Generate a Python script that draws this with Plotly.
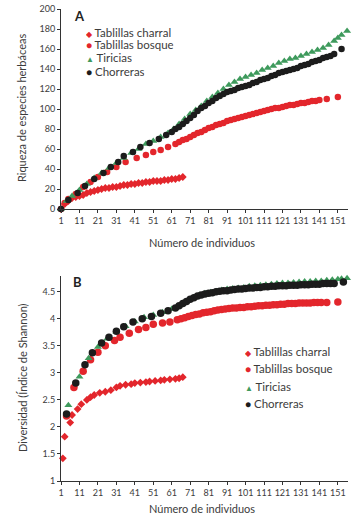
import plotly.graph_objects as go

# ---------------- Data: Panel A (riqueza) ----------------
charral_A_x = [1,3,5,7,9,11,13,15,17,19,21,23,25,27,29,31,33,35,37,39,41,43,45,47,49,51,53,55,57,59,61,63,65,67]
charral_A_y = [0,5,8,11,12,13,14,16,17,18,19,20,21,21,22,22,23,24,24,25,25,26,26,27,27,28,28,28,29,29,30,30,31,32]

bosque_A_x = [1,3,5,9,13,17,21,26,31,36,42,47,51,55,59,63,65,67,69,71,73,75,77,79,81,83,85,87,89,91,93,95,97,99,101,103,105,107,109,111,113,115,117,119,121,123,125,127,129,131,133,135,137,139,141,145,151]
bosque_A_y = [0,6,10,15,22,27,32,37,42,47,51,54,57,59,62,65,67,69,70,72,74,76,77,79,81,82,84,85,86,88,89,90,91,92,93,94,95,96,97,98,99,100,101,101,102,103,104,104,105,106,106,107,108,108,109,110,112]

tiricias_A_x = [1,4,7,11,15,19,23,27,31,35,39,43,47,51,55,59,62,65,68,71,74,77,80,83,86,89,92,95,98,101,104,107,110,113,116,119,122,125,128,131,134,137,140,143,146,149,151,153,156]
tiricias_A_y = [0,8,13,19,25,31,36,41,46,51,56,60,65,68,72,76,80,85,90,95,99,103,108,112,116,120,124,127,130,132,134,136,139,141,143,146,148,150,151,153,155,157,159,161,164,168,171,174,178]

chorreras_A_x = [1,5,10,14,19,24,28,32,35,40,44,49,54,58,61,63,65,67,69,71,73,75,77,79,81,83,85,87,89,91,93,95,97,99,101,103,105,107,109,111,113,115,117,119,121,123,125,127,129,131,133,135,137,139,141,143,145,147,149,153]
chorreras_A_y = [0,9,16,23,30,36,42,47,53,57,62,66,70,74,77,80,82,85,88,91,94,98,101,103,106,108,111,113,115,117,118,119,121,122,123,124,126,127,129,130,131,133,134,136,137,138,139,140,141,143,144,145,147,148,149,151,152,153,155,160]

# ---------------- Data: Panel B (Shannon) ----------------
charral_B_x = [2,3,6,7,10,12,15,17,19,22,25,28,31,33,36,39,41,44,47,49,52,55,57,60,63,65,67]
charral_B_y = [1.42,1.82,2.08,2.22,2.33,2.42,2.50,2.55,2.59,2.63,2.65,2.68,2.73,2.76,2.78,2.79,2.81,2.82,2.83,2.84,2.85,2.86,2.87,2.88,2.89,2.90,2.92]

bosque_B_x = [4,8,13,17,21,25,30,33,38,43,47,51,56,60,64,66,68,70,72,74,76,78,80,82,84,86,88,90,92,94,96,98,100,102,104,106,108,110,112,114,116,118,120,122,124,126,128,130,132,134,136,138,140,142,145,151]
bosque_B_y = [2.20,2.73,3.03,3.24,3.38,3.50,3.60,3.66,3.73,3.80,3.84,3.90,3.92,3.94,3.98,4.00,4.02,4.04,4.06,4.08,4.09,4.11,4.12,4.13,4.15,4.16,4.17,4.18,4.19,4.20,4.20,4.21,4.21,4.22,4.22,4.23,4.24,4.24,4.25,4.25,4.26,4.26,4.27,4.27,4.28,4.28,4.28,4.29,4.29,4.29,4.29,4.30,4.30,4.30,4.30,4.31]

tiricias_B_x = [5,11,16,21,26,31,36,41,46,51,56,61,64,67,70,73,76,79,82,85,88,91,94,97,100,103,106,109,112,115,118,121,124,127,130,133,136,139,142,145,148,151,153,156]
tiricias_B_y = [2.40,2.93,3.27,3.48,3.63,3.76,3.86,3.95,4.03,4.07,4.12,4.18,4.23,4.29,4.35,4.40,4.44,4.47,4.49,4.51,4.53,4.55,4.56,4.57,4.58,4.60,4.61,4.62,4.63,4.64,4.65,4.66,4.66,4.67,4.68,4.69,4.69,4.70,4.70,4.71,4.72,4.73,4.74,4.75]

chorreras_B_x = [4,9,14,18,23,27,31,35,40,45,50,55,59,63,65,67,69,71,73,75,77,79,81,83,85,87,89,91,93,95,97,99,101,103,105,107,109,111,113,115,117,119,121,123,125,127,129,131,133,135,137,139,141,143,145,147,149,154]
chorreras_B_y = [2.24,2.81,3.15,3.37,3.55,3.66,3.77,3.85,3.94,4.00,4.04,4.10,4.15,4.20,4.24,4.28,4.32,4.36,4.39,4.42,4.44,4.46,4.47,4.48,4.50,4.51,4.52,4.52,4.53,4.54,4.55,4.55,4.56,4.57,4.57,4.58,4.58,4.59,4.59,4.60,4.60,4.61,4.61,4.61,4.62,4.62,4.62,4.63,4.63,4.63,4.64,4.64,4.64,4.65,4.65,4.65,4.65,4.68]

series_names = ["Tablillas charral", "Tablillas bosque", "Tiricias", "Chorreras"]
x_ticks = [1,11,21,31,41,51,61,71,81,91,101,111,121,131,141,151]
yA_ticks = [0,20,40,60,80,100,120,140,160,180,200]
yB_ticks = [1,1.5,2,2.5,3,3.5,4,4.5]
yB_labels = ["1","1.5","2","2.5","3","3.5","4","4.5"]

RED = "#e3262c"
GREEN = "#3e9a5c"
BLACK = "#1c1c1c"
FONT = "Lato"
TXT = "#3c3c3c"

W, H = 355, 521
L, R = 61, 7

def px_x(p):
    return (p - L) / (W - L - R)

def px_y(p):
    return 1 - p / H

fig = go.Figure()

styles = [
    dict(symbol="diamond", size=6, color=RED),
    dict(symbol="circle", size=6.5, color=RED),
    dict(symbol="triangle-up", size=7, color=GREEN),
    dict(symbol="circle", size=6.5, color=BLACK),
]
A_data = [(charral_A_x, charral_A_y), (bosque_A_x, bosque_A_y),
          (tiricias_A_x, tiricias_A_y), (chorreras_A_x, chorreras_A_y)]
B_data = [(charral_B_x, charral_B_y), (bosque_B_x, bosque_B_y),
          (tiricias_B_x, tiricias_B_y), (chorreras_B_x, chorreras_B_y)]

for (xs, ys), st, nm in zip(A_data, styles, series_names):
    fig.add_trace(go.Scatter(x=xs, y=ys, mode="markers", name=nm, showlegend=False,
                             marker=dict(symbol=st["symbol"], size=st["size"], color=st["color"], line=dict(width=0)),
                             cliponaxis=False, xaxis="x", yaxis="y"))
for (xs, ys), st, nm in zip(B_data, styles, series_names):
    sz = st["size"] + (1 if st["symbol"] == "circle" else 0)
    fig.add_trace(go.Scatter(x=xs, y=ys, mode="markers", name=nm, showlegend=False,
                             marker=dict(symbol=st["symbol"], size=sz, color=st["color"], line=dict(width=0)),
                             cliponaxis=False, xaxis="x2", yaxis="y2"))

axis_common = dict(showline=True, linecolor="#333333", linewidth=1, ticks="outside", ticklen=3,
                   tickcolor="#333333", showgrid=False, zeroline=False, automargin=False,
                   tickangle=0, tickfont=dict(family=FONT, size=9, color=TXT))

fig.update_layout(
    width=W, height=H, margin=dict(l=L, r=R, t=0, b=0),
    paper_bgcolor="white", plot_bgcolor="white", template="none",
    showlegend=False,
    xaxis=dict(domain=[0, 1], range=[1, 156.5], tickvals=x_ticks, anchor="y", **axis_common),
    yaxis=dict(domain=[px_y(209), px_y(9)], range=[0, 200], tickvals=yA_ticks, anchor="x", **axis_common),
    xaxis2=dict(domain=[0, 1], range=[1, 156.5], tickvals=x_ticks, anchor="y2", **axis_common),
    yaxis2=dict(domain=[px_y(481), px_y(276)], range=[1, 1 + (481 - 276) / 54.08], tickvals=yB_ticks,
                ticktext=yB_labels, anchor="x2", **axis_common),
)

ann = []
# Panel letters
ann.append(dict(text="<b>A</b>", x=px_x(72), y=px_y(16), xref="paper", yref="paper", showarrow=False,
                xanchor="left", yanchor="middle", font=dict(family=FONT, size=13, color="#222")))
ann.append(dict(text="<b>B</b>", x=px_x(71), y=px_y(282), xref="paper", yref="paper", showarrow=False,
                xanchor="left", yanchor="middle", font=dict(family=FONT, size=13, color="#222")))
# Axis titles
ann.append(dict(text="Número de individuos", x=px_x(202), y=px_y(242), xref="paper", yref="paper",
                showarrow=False, xanchor="center", yanchor="middle", font=dict(family=FONT, size=11, color=TXT)))
ann.append(dict(text="Número de individuos", x=px_x(202), y=px_y(508), xref="paper", yref="paper",
                showarrow=False, xanchor="center", yanchor="middle", font=dict(family=FONT, size=11, color=TXT)))
ann.append(dict(text="Riqueza de especies herbáceas", x=px_x(22), y=px_y(108), xref="paper", yref="paper",
                showarrow=False, textangle=-90, xanchor="center", yanchor="middle",
                font=dict(family=FONT, size=11, color=TXT)))
ann.append(dict(text="Diversidad (Índice de Shannon)", x=px_x(22), y=px_y(378), xref="paper", yref="paper",
                showarrow=False, textangle=-90, xanchor="center", yanchor="middle",
                font=dict(family=FONT, size=11, color=TXT)))

glyphs = [("◆", RED, 8), ("●", RED, 10), ("▲", GREEN, 8), ("●", BLACK, 10)]

def legend_rows(x0, ys):
    for (g, c, s), nm, yy in zip(glyphs, series_names, ys):
        ann.append(dict(text=f'<span style="color:{c};font-size:{s}px">{g}</span> {nm}',
                        x=px_x(x0), y=px_y(yy), xref="paper", yref="paper", showarrow=False,
                        xanchor="left", yanchor="middle", height=13,
                        font=dict(family=FONT, size=11.5, color=TXT)))

legend_rows(84, [32, 45, 58, 71])
legend_rows(243, [351, 368, 386, 403])

fig.update_layout(annotations=ann)
fig.write_html("out.html", config={"displayModeBar": False},
               post_script="document.body.style.margin='0px';document.body.style.padding='0px';")
